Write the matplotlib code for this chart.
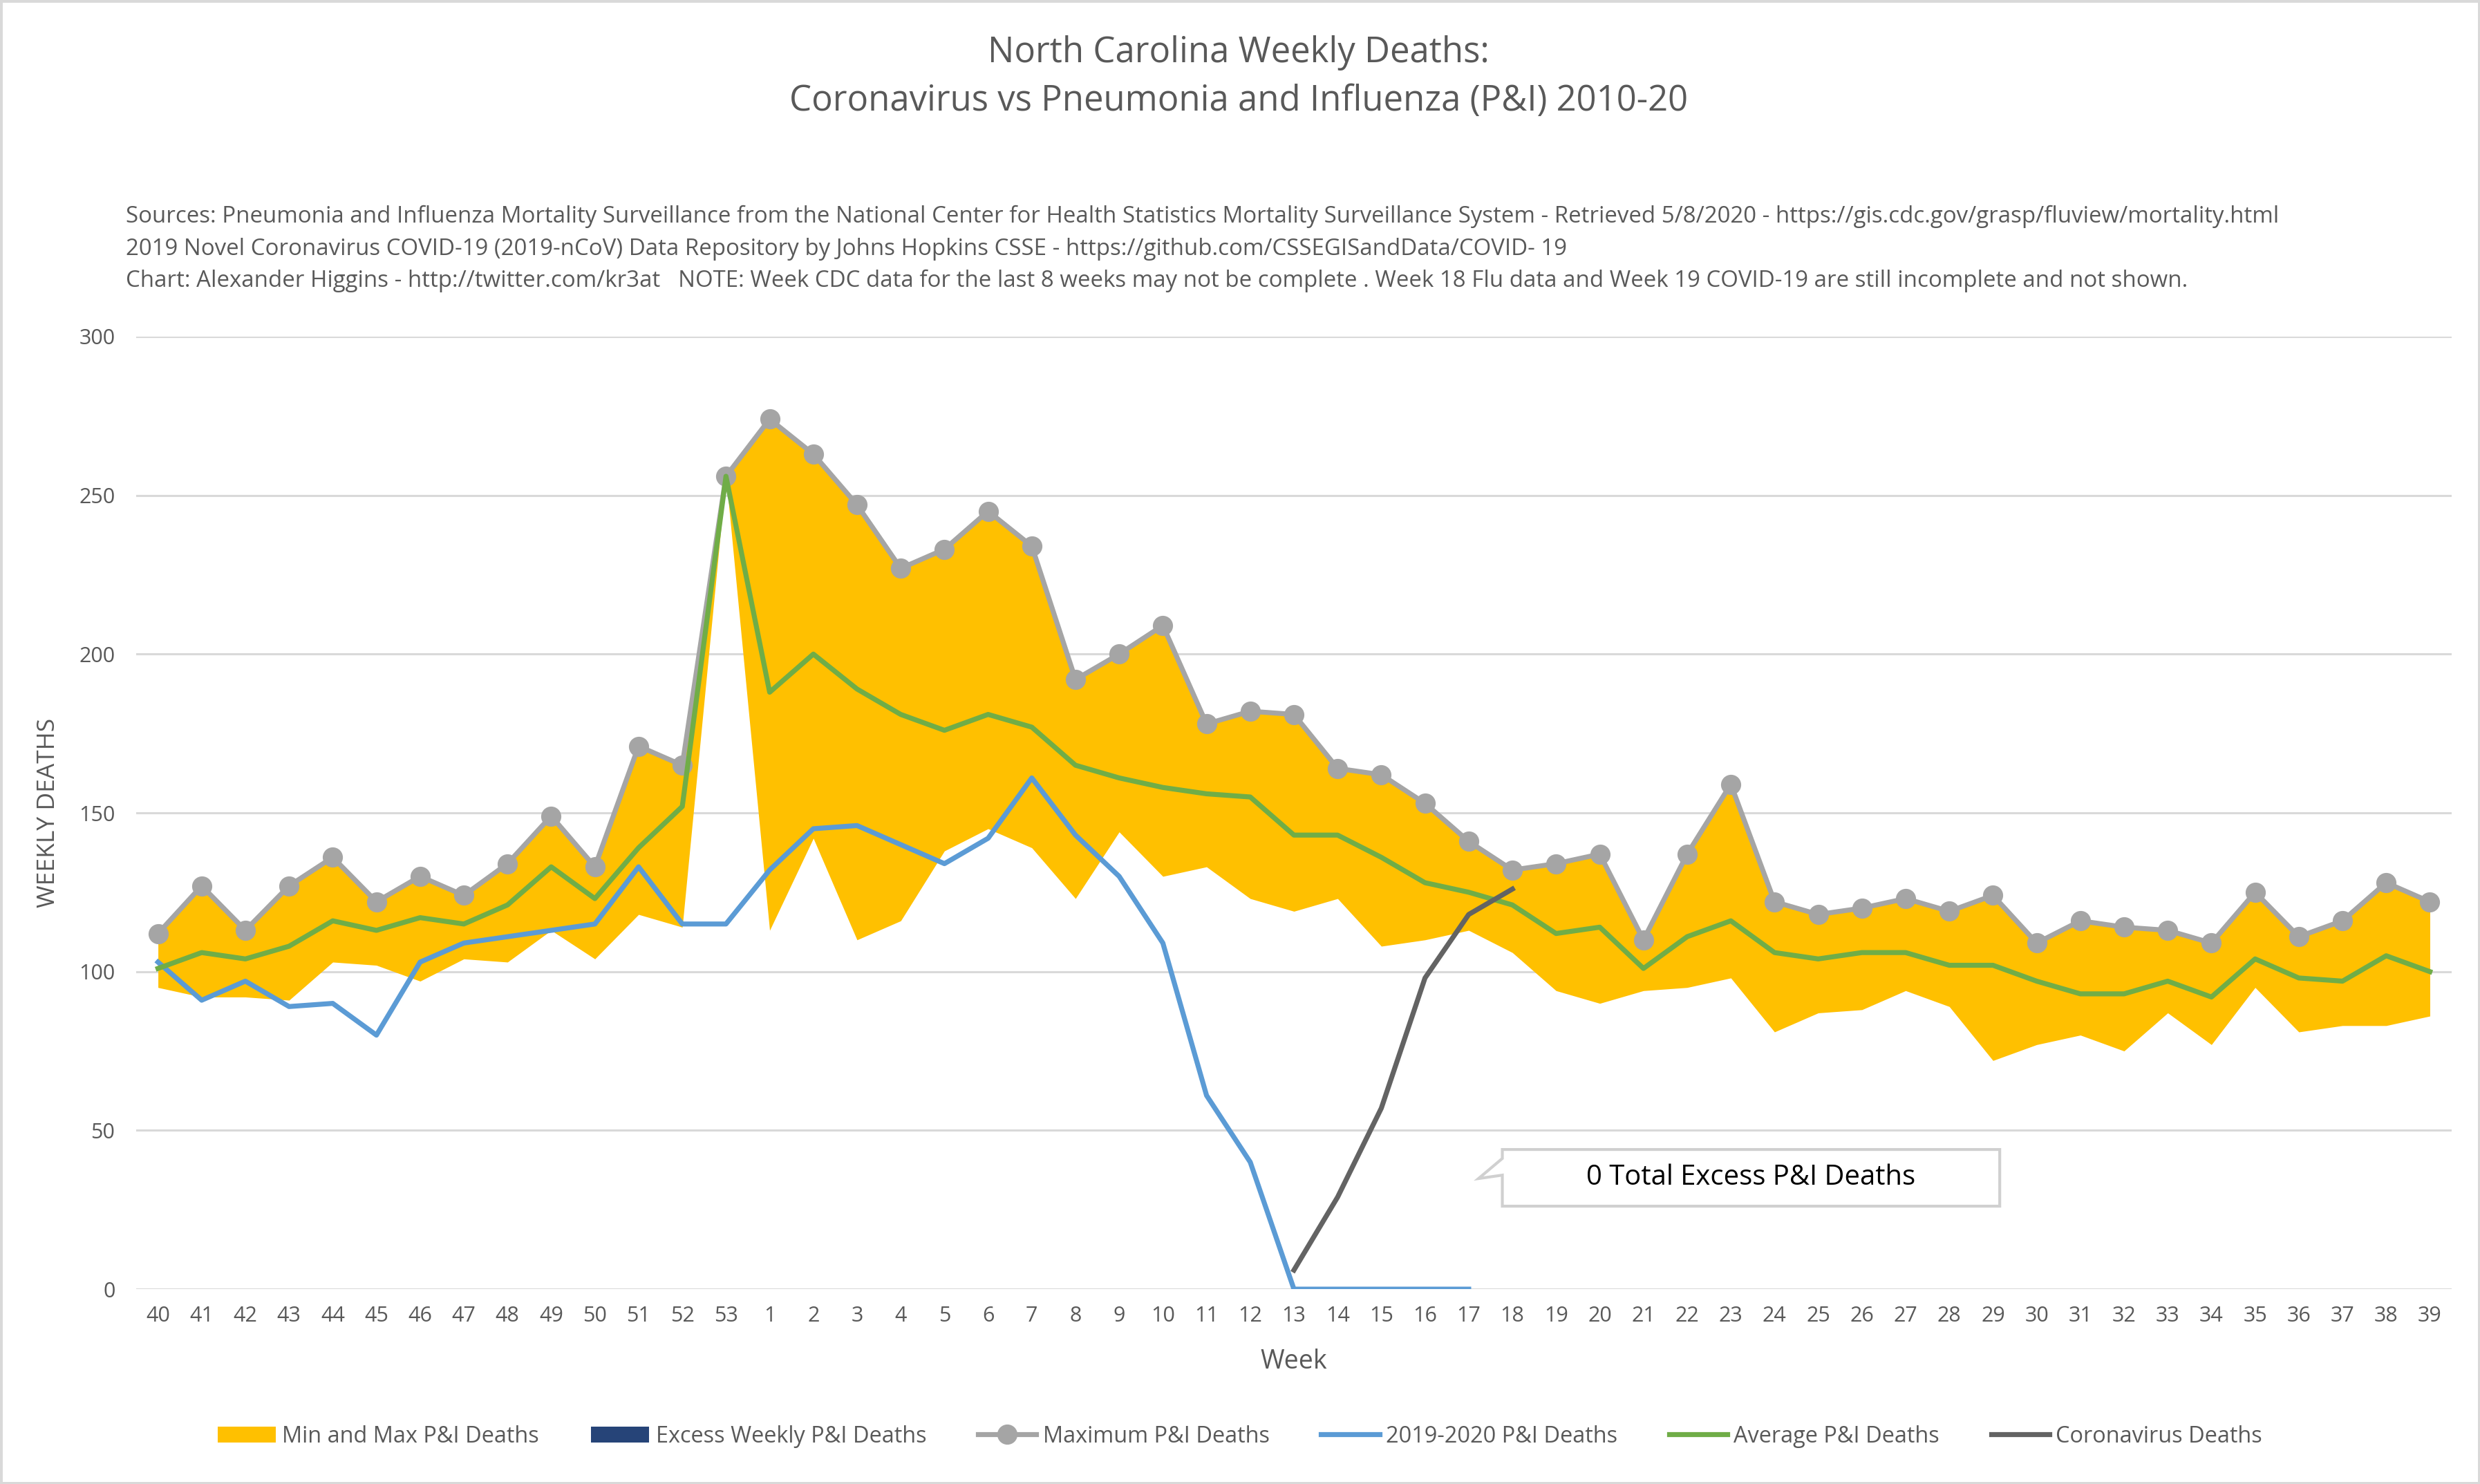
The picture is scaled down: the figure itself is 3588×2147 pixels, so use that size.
import numpy as np
import matplotlib
matplotlib.use("Agg")
import matplotlib.pyplot as plt
from matplotlib.patches import Patch, Polygon
from matplotlib.lines import Line2D

plt.rcParams['font.family'] = ['Open Sans', 'DejaVu Sans']

# week labels: flu season runs from week 40 to week 39 of the next year
weeks = [str(w) for w in range(40, 54)] + [str(w) for w in range(1, 40)]

max_pi = [112, 127, 113, 127, 136, 122, 130, 124, 134, 149, 133, 171, 165, 256,
          274, 263, 247, 227, 233, 245, 234, 192, 200, 209, 178, 182, 181, 164,
          162, 153, 141, 132, 134, 137, 110, 137, 159, 122, 118, 120, 123, 119,
          124, 109, 116, 114, 113, 109, 125, 111, 116, 128, 122]

min_pi = [95, 92, 92, 91, 103, 102, 97, 104, 103, 113, 104, 118, 114, 256,
          113, 142, 110, 116, 138, 145, 139, 123, 144, 130, 133, 123, 119, 123,
          108, 110, 113, 106, 94, 90, 94, 95, 98, 81, 87, 88, 94, 89,
          72, 77, 80, 75, 87, 77, 95, 81, 83, 83, 86]

avg_pi = [101, 106, 104, 108, 116, 113, 117, 115, 121, 133, 123, 139, 152, 256,
          188, 200, 189, 181, 176, 181, 177, 165, 161, 158, 156, 155, 143, 143,
          136, 128, 125, 121, 112, 114, 101, 111, 116, 106, 104, 106, 106, 102,
          102, 97, 93, 93, 97, 92, 104, 98, 97, 105, 100]

nan = np.nan
pi_2019_20 = [103, 91, 97, 89, 90, 80, 103, 109, 111, 113, 115, 133, 115, 115,
              132, 145, 146, 140, 134, 142, 161, 143, 130, 109, 61, 40, 0, 0,
              0, 0, 0] + [nan] * 22

covid = [nan] * 26 + [6, 29, 57, 98, 118, 126] + [nan] * 21

# excess = how far 2019-20 went above the max (never did)
excess = [0] * 31 + [nan] * 22

x = np.arange(len(weeks))
max_a = np.array(max_pi, float)
min_a = np.array(min_pi, float)

c_band = '#FFC000'
c_excess = '#264478'
c_max = '#A5A5A5'
c_cur = '#5B9BD5'
c_avg = '#70AD47'
c_cov = '#636363'
c_text = '#595959'

fig = plt.figure(figsize=(35.88, 21.47), dpi=100)
fig.patch.set_edgecolor('#D9D9D9')
fig.patch.set_linewidth(5)
ax = fig.add_axes([0.0549, 0.1313, 0.9337, 0.6419])

ax.fill_between(x, min_a, max_a, color=c_band, linewidth=0, zorder=2)
ax.fill_between(x, max_a, max_a + np.array(excess, float), color=c_excess,
                linewidth=0, zorder=2)
ax.plot(x, max_pi, color=c_max, lw=5.2, marker='o', markersize=20, zorder=3)
ax.plot(x, pi_2019_20, color=c_cur, lw=5.2, zorder=4)
ax.plot(x, avg_pi, color=c_avg, lw=5.2, zorder=5)
ax.plot(x, covid, color=c_cov, lw=5.2, zorder=6)

ax.set_xlim(-0.5, len(weeks) - 0.5)
ax.set_ylim(0, 300)
ax.set_yticks([0, 50, 100, 150, 200, 250, 300])
ax.set_xticks(x)
ax.set_xticklabels(weeks)
ax.grid(axis='y', color='#D9D9D9', lw=2.2, zorder=0)
ax.set_axisbelow(True)
for s in ax.spines.values():
    s.set_visible(False)
ax.tick_params(axis='both', length=0, labelsize=22, labelcolor=c_text)
ax.tick_params(axis='y', pad=22)
ax.tick_params(axis='x', pad=17)

ax.set_xlabel('Week', fontsize=27, color=c_text)
ax.xaxis.label.set_va('baseline')
ax.xaxis.set_label_coords(0.5, -0.0835)
ax.set_ylabel('WEEKLY DEATHS', fontsize=25.5, color=c_text)
ax.yaxis.label.set_va('center')
ax.yaxis.set_label_coords(-0.038, 0.5)

# callout box
callout = Polygon([(0.590, 0.1466), (0.8048, 0.1466), (0.8048, 0.0871),
                   (0.590, 0.0871), (0.590, 0.1197), (0.5797, 0.1161),
                   (0.590, 0.1372)], closed=True, transform=ax.transAxes,
                  facecolor='white', edgecolor='#D0D0D0', lw=3, zorder=7)
ax.add_patch(callout)
ax.text(0.6973, 0.1168, '0 Total Excess P&I Deaths', transform=ax.transAxes,
        ha='center', va='center', fontsize=28.8, color='black', zorder=8)

# titles and notes
fig.text(0.4995, 0.958, 'North Carolina Weekly Deaths:', ha='center',
         va='baseline', fontsize=36.6, color=c_text)
fig.text(0.4995, 0.9255, 'Coronavirus vs Pneumonia and Influenza (P&I) 2010-20',
         ha='center', va='baseline', fontsize=36.6, color=c_text)
notes = [
    'Sources: Pneumonia and Influenza Mortality Surveillance from the National Center for Health Statistics Mortality Surveillance System - Retrieved 5/8/2020 - https://gis.cdc.gov/grasp/fluview/mortality.html',
    '2019 Novel Coronavirus COVID-19 (2019-nCoV) Data Repository by Johns Hopkins CSSE - https://github.com/CSSEGISandData/COVID- 19',
    'Chart: Alexander Higgins - http://twitter.com/kr3at   NOTE: Week CDC data for the last 8 weeks may not be complete . Week 18 Flu data and Week 19 COVID-19 are still incomplete and not shown.',
]
for i, line in enumerate(notes):
    fig.text(0.0507, 0.850 - i * 0.0217, line, ha='left', va='baseline',
             fontsize=23.8, color=c_text)

handles = [
    Patch(facecolor=c_band, edgecolor='none'),
    Patch(facecolor=c_excess, edgecolor='none'),
    Line2D([], [], color=c_max, lw=5.2, marker='o', markersize=20),
    Line2D([], [], color=c_cur, lw=5.2),
    Line2D([], [], color=c_avg, lw=5.2),
    Line2D([], [], color=c_cov, lw=5.2),
]
labels = ['Min and Max P&I Deaths', 'Excess Weekly P&I Deaths', 'Maximum P&I Deaths',
          '2019-2020 P&I Deaths', 'Average P&I Deaths', 'Coronavirus Deaths']
leg = fig.legend(handles, labels, loc='center', bbox_to_anchor=(0.5, 0.0321),
                 ncol=6, frameon=False, fontsize=23.4, handlelength=2.6,
                 handletextpad=0.28, columnspacing=2.3)
for t in leg.get_texts():
    t.set_color(c_text)

fig.savefig('out.png', dpi=100)
